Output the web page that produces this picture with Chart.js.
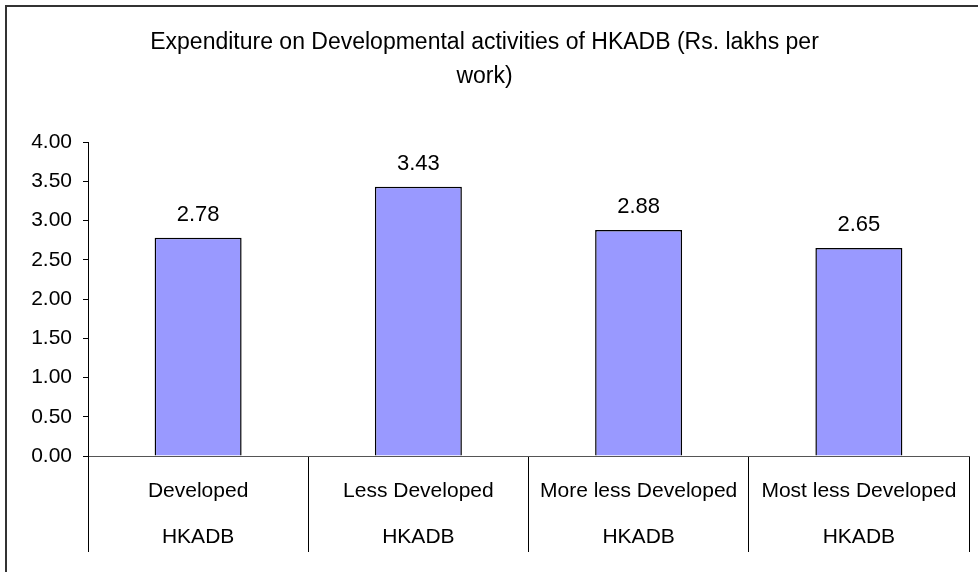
<!DOCTYPE html>
<html>
<head>
<meta charset="utf-8">
<script src="https://cdn.jsdelivr.net/npm/chart.js@4"></script>
<style>
  html, body { margin: 0; padding: 0; background: #fff; }
  #wrap { width: 978px; height: 572px; position: relative; }
</style>
</head>
<body>
<div id="wrap"><canvas id="chart"></canvas></div>
<script>
const CATEGORIES = ['Developed', 'Less Developed', 'More less Developed', 'Most less Developed'];
const GROUP_LABEL = 'HKADB';
const VALUES = [2.78, 3.43, 2.88, 2.65];
const TITLE_LINES = ['Expenditure on Developmental activities of HKADB (Rs. lakhs per', 'work)'];

const FONT = "'Liberation Sans', Arial, sans-serif";

// frame line on the left and top edges
const framePlugin = {
  id: 'frame',
  beforeDraw(chart) {
    const ctx = chart.ctx;
    ctx.save();
    ctx.strokeStyle = '#333';
    ctx.lineWidth = 2;
    ctx.beginPath();
    ctx.moveTo(6, 580);
    ctx.lineTo(6, 6);
    ctx.lineTo(990, 6);
    ctx.stroke();
    ctx.restore();
  },
};

// value labels above each bar
const valueLabels = {
  id: 'valueLabels',
  afterDatasetsDraw(chart) {
    const ctx = chart.ctx;
    const meta = chart.getDatasetMeta(0);
    ctx.save();
    ctx.font = `22px ${FONT}`;
    ctx.fillStyle = '#000';
    ctx.textAlign = 'center';
    ctx.textBaseline = 'middle';
    meta.data.forEach((bar, i) => {
      ctx.fillText(VALUES[i].toFixed(2), bar.x, bar.y - 23);
    });
    ctx.restore();
  },
};

new Chart(document.getElementById('chart'), {
  type: 'bar',
  data: {
    labels: CATEGORIES.map(c => [c, GROUP_LABEL]),
    datasets: [{
      data: VALUES,
      backgroundColor: '#9999ff',
      borderColor: '#000',
      borderWidth: 1.5,
      barPercentage: 0.395,
      categoryPercentage: 1,
    }],
  },
  options: {
    responsive: true,
    maintainAspectRatio: false,
    animation: false,
    layout: { padding: { left: 0, right: 9, top: 0, bottom: 0 } },
    plugins: {
      legend: { display: false },
      tooltip: { enabled: false },
      title: {
        display: true,
        text: TITLE_LINES,
        color: '#000',
        font: { family: FONT, size: 23, weight: 'normal', lineHeight: 34 / 23 },
        padding: { top: 26, bottom: 48 },
      },
    },
    scales: {
      x: {
        grid: {
          offset: true,
          drawOnChartArea: false,
          drawTicks: true,
          tickLength: 96,
          color: '#000',
        },
        border: { color: '#555', width: 1 },
        ticks: {
          color: '#000',
          padding: -84,
          maxRotation: 0,
          autoSkip: false,
          font: { family: FONT, size: 21, lineHeight: 46 / 21 },
        },
        afterFit(scale) { scale.height = 116; },
      },
      y: {
        min: 0,
        max: 4,
        grid: {
          drawOnChartArea: false,
          drawTicks: true,
          tickLength: 5,
          color: '#000',
        },
        border: { color: '#000', width: 1 },
        ticks: {
          stepSize: 0.5,
          color: '#000',
          padding: 11,
          font: { family: FONT, size: 21 },
          callback: v => Number(v).toFixed(2),
        },
        afterFit(scale) { scale.width = 88; },
      },
    },
  },
  plugins: [framePlugin, valueLabels],
});
</script>
</body>
</html>
